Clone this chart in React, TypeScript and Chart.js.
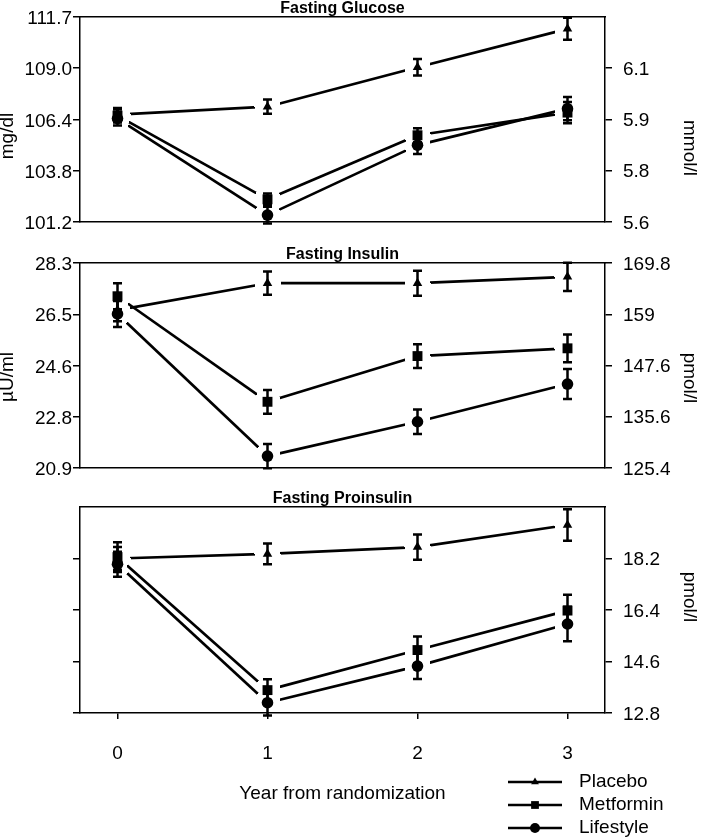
import React, { useEffect, useRef } from 'react';
import { Chart, registerables } from 'chart.js';
import { drawPoint } from 'chart.js/helpers';

Chart.register(...registerables);

const FONT = 'Liberation Sans, Arial, sans-serif';

const years = [0, 1, 2, 3];
const yearLabels = ['0', '1', '2', '3'];
const seriesNames = ['Placebo', 'Metformin', 'Lifestyle'];
const seriesMarkers = ['triangle', 'rect', 'circle'];
const markerRadius = [5.5, 7, 5.8];
const xTitle = 'Year from randomization';

// Fasting glucose (mg/dl)
const glucosePlacebo = [106.65, 107.05, 109.05, 111.0];
const glucoseMetformin = [106.6, 102.35, 105.6, 106.75];
const glucoseLifestyle = [106.45, 101.55, 105.1, 106.95];
const glucosePlaceboErr = [0.33, 0.36, 0.42, 0.56];
const glucoseMetforminErr = [0.35, 0.3, 0.36, 0.54];
const glucoseLifestyleErr = [0.35, 0.43, 0.45, 0.59];
const glucoseTicks = [101.2, 103.8, 106.4, 109.0, 111.6];
const glucoseLeftLabels = ['101.2', '103.8', '106.4', '109.0', '111.7'];
const glucoseRightTicks = [101.2, 103.8, 106.4, 109.0];
const glucoseRightLabels = ['5.6', '5.8', '5.9', '6.1'];

// Fasting insulin (µU/ml)
const insulinPlacebo = [26.6, 27.57, 27.57, 27.8];
const insulinMetformin = [27.1, 23.29, 24.94, 25.22];
const insulinLifestyle = [26.46, 21.33, 22.57, 23.93];
const insulinPlaceboErr = [0.4, 0.42, 0.45, 0.51];
const insulinMetforminErr = [0.47, 0.43, 0.43, 0.5];
const insulinLifestyleErr = [0.47, 0.44, 0.44, 0.54];
const insulinTicks = [20.9, 22.75, 24.6, 26.45, 28.3];
const insulinLeftLabels = ['20.9', '22.8', '24.6', '26.5', '28.3'];
const insulinRightLabels = ['125.4', '135.6', '147.6', '159', '169.8'];

// Fasting proinsulin (pmol/l)
const proinsulinPlacebo = [18.2, 18.36, 18.6, 19.37];
const proinsulinMetformin = [18.25, 13.6, 15.0, 16.38];
const proinsulinLifestyle = [18.0, 13.16, 14.44, 15.91];
const proinsulinPlaceboErr = [0.4, 0.36, 0.44, 0.55];
const proinsulinMetforminErr = [0.52, 0.38, 0.47, 0.55];
const proinsulinLifestyleErr = [0.44, 0.45, 0.45, 0.6];
const proinsulinTicks = [12.8, 14.6, 16.4, 18.2];
const proinsulinLeftLabels = ['', '', '', ''];
const proinsulinRightLabels = ['12.8', '14.6', '16.4', '18.2'];

const GAP = 13;
const CLEAR = 'rgba(0,0,0,0)';

// line segments fade out near each marker, leaving a small gap like the original
function gappedSegmentColor(sc: any) {
  const a = sc.p0;
  const b = sc.p1;
  const len = Math.hypot(b.x - a.x, b.y - a.y);
  if (!len || !isFinite(len)) return '#000';
  const g = Math.min(GAP / len, 0.45);
  const grad = sc.chart.ctx.createLinearGradient(a.x, a.y, b.x, b.y);
  grad.addColorStop(0, CLEAR);
  grad.addColorStop(g, CLEAR);
  grad.addColorStop(g, '#000');
  grad.addColorStop(1 - g, '#000');
  grad.addColorStop(1 - g, CLEAR);
  grad.addColorStop(1, CLEAR);
  return grad;
}

const errorBarPlugin = {
  id: 'errorBars',
  afterDatasetsDraw(chart: any) {
    const ctx = chart.ctx;
    const ys = chart.scales.y;
    ctx.save();
    ctx.strokeStyle = '#000';
    ctx.lineWidth = 2.5;
    chart.data.datasets.forEach((ds: any, i: number) => {
      const meta = chart.getDatasetMeta(i);
      meta.data.forEach((p: any, j: number) => {
        const v = ds.data[j].y;
        const e = ds.errors[j];
        const t = ys.getPixelForValue(v + e);
        const b = ys.getPixelForValue(v - e);
        ctx.beginPath();
        ctx.moveTo(p.x, t);
        ctx.lineTo(p.x, b);
        ctx.moveTo(p.x - 4.5, t);
        ctx.lineTo(p.x + 4.5, t);
        ctx.moveTo(p.x - 4.5, b);
        ctx.lineTo(p.x + 4.5, b);
        ctx.stroke();
      });
    });
    ctx.restore();
  },
};

const sideTitlePlugin = {
  id: 'sideTitles',
  afterDraw(chart: any, _args: any, opts: any) {
    const ctx = chart.ctx;
    (opts.items || []).forEach((it: any) => {
      ctx.save();
      ctx.translate(it.x, it.y);
      ctx.rotate(it.rot);
      ctx.font = `19px ${FONT}`;
      ctx.fillStyle = '#000';
      ctx.textAlign = 'center';
      ctx.textBaseline = 'middle';
      ctx.fillText(it.text, 0, 0);
      ctx.restore();
    });
  },
};

const legendPlugin = {
  id: 'seriesLegend',
  afterDraw(chart: any, _args: any, opts: any) {
    if (!opts.show) return;
    const ctx = chart.ctx;
    const legendRadius = [4.5, 5.5, 5];
    ctx.save();
    chart.data.datasets.forEach((ds: any, i: number) => {
      const y = opts.y0 + i * opts.dy;
      ctx.strokeStyle = '#000';
      ctx.lineWidth = 2.7;
      ctx.beginPath();
      ctx.moveTo(opts.x0, y);
      ctx.lineTo(opts.x1, y);
      ctx.stroke();
      ctx.fillStyle = '#000';
      drawPoint(ctx, { pointStyle: ds.pointStyle, radius: legendRadius[i], rotation: 0, borderWidth: 0 } as any, (opts.x0 + opts.x1) / 2, y);
      ctx.font = `19px ${FONT}`;
      ctx.textAlign = 'left';
      ctx.textBaseline = 'middle';
      ctx.fillText(ds.label, opts.tx, y);
    });
    ctx.restore();
  },
};

type PanelCfg = {
  title: string;
  means: number[][];
  errs: number[][];
  min: number;
  max: number;
  leftTicks: number[];
  leftLabels: string[];
  rightTicks: number[];
  rightLabels: string[];
  sideTitles: any[];
  showX: boolean;
  bottomPad: number;
};

function buildConfig(c: PanelCfg): any {
  const tickFont = { family: FONT, size: 19 };
  const axisLine = { display: true, color: '#000', width: 1.5 };
  return {
    type: 'line',
    data: {
      datasets: seriesNames.map((name, i) => ({
        label: name,
        data: years.map((x, j) => ({ x, y: c.means[i][j] })),
        errors: c.errs[i],
        borderColor: '#000',
        backgroundColor: '#000',
        borderWidth: 2.7,
        segment: { borderColor: gappedSegmentColor },
        pointStyle: seriesMarkers[i],
        pointRadius: markerRadius[i],
        pointBorderWidth: 0,
        pointBackgroundColor: '#000',
        tension: 0,
        clip: false,
      })),
    },
    options: {
      responsive: false,
      maintainAspectRatio: false,
      animation: false,
      events: [],
      layout: { padding: { top: 0, left: 0, right: 0, bottom: c.bottomPad } },
      plugins: {
        legend: { display: false },
        tooltip: { enabled: false },
        title: {
          display: true,
          text: c.title,
          fullSize: false,
          padding: 0,
          color: '#000',
          font: { family: FONT, size: 16, weight: 'bold', lineHeight: 17 / 16 },
        },
        sideTitles: { items: c.sideTitles },
        seriesLegend: { show: c.showX, x0: 508, x1: 562, tx: 579, y0: 292, dy: 23 },
      },
      scales: {
        x: {
          type: 'linear',
          position: 'bottom',
          min: -0.25,
          max: 3.25,
          afterBuildTicks: (ax: any) => {
            ax.ticks = years.map((v) => ({ value: v }));
          },
          afterFit: (s: any) => {
            if (c.showX) s.height = 92.4;
          },
          ticks: {
            display: c.showX,
            callback: (_v: any, i: number) => yearLabels[i],
            padding: 23.6,
            font: tickFont,
            color: '#000',
            autoSkip: false,
            maxRotation: 0,
          },
          grid: { display: c.showX, drawOnChartArea: false, drawTicks: c.showX, tickLength: 6, color: '#000', lineWidth: 1.5 },
          border: axisLine,
          title: c.showX
            ? { display: true, text: xTitle, color: '#000', padding: { top: 0, bottom: 0 }, font: { family: FONT, size: 19, lineHeight: 1.2 } }
            : { display: false },
        },
        xTop: {
          type: 'linear',
          position: 'top',
          ticks: { display: false },
          grid: { display: false, drawTicks: false },
          border: axisLine,
        },
        y: {
          type: 'linear',
          position: 'left',
          min: c.min,
          max: c.max,
          afterBuildTicks: (ax: any) => {
            ax.ticks = c.leftTicks.map((v) => ({ value: v }));
          },
          afterFit: (s: any) => {
            s.width = 80;
            s.paddingTop = 0;
            s.paddingBottom = 0;
          },
          ticks: {
            callback: (_v: any, i: number) => c.leftLabels[i],
            padding: 1,
            labelOffset: 2,
            font: tickFont,
            color: '#000',
            autoSkip: false,
          },
          grid: { drawOnChartArea: false, tickLength: 7, color: '#000', lineWidth: 1.5 },
          border: axisLine,
        },
        yR: {
          type: 'linear',
          position: 'right',
          min: c.min,
          max: c.max,
          afterBuildTicks: (ax: any) => {
            ax.ticks = c.rightTicks.map((v) => ({ value: v }));
          },
          afterFit: (s: any) => {
            s.width = 96;
            s.paddingTop = 0;
            s.paddingBottom = 0;
          },
          ticks: {
            callback: (_v: any, i: number) => c.rightLabels[i],
            padding: 11,
            labelOffset: 1.5,
            font: tickFont,
            color: '#000',
            autoSkip: false,
          },
          grid: { drawOnChartArea: false, tickLength: 7, color: '#000', lineWidth: 1.5 },
          border: axisLine,
        },
      },
    },
    plugins: [errorBarPlugin, sideTitlePlugin, legendPlugin],
  };
}

const panels: { cfg: PanelCfg; top: number; height: number }[] = [
  {
    top: 0,
    height: 240,
    cfg: {
      title: 'Fasting Glucose',
      means: [glucosePlacebo, glucoseMetformin, glucoseLifestyle],
      errs: [glucosePlaceboErr, glucoseMetforminErr, glucoseLifestyleErr],
      min: 101.2,
      max: 111.6,
      leftTicks: glucoseTicks,
      leftLabels: glucoseLeftLabels,
      rightTicks: glucoseRightTicks,
      rightLabels: glucoseRightLabels,
      sideTitles: [
        { text: 'mg/dl', x: 8, y: 136, rot: -Math.PI / 2 },
        { text: 'mmol/l', x: 689, y: 148, rot: Math.PI / 2 },
      ],
      showX: false,
      bottomPad: 18,
    },
  },
  {
    top: 246,
    height: 240,
    cfg: {
      title: 'Fasting Insulin',
      means: [insulinPlacebo, insulinMetformin, insulinLifestyle],
      errs: [insulinPlaceboErr, insulinMetforminErr, insulinLifestyleErr],
      min: 20.9,
      max: 28.3,
      leftTicks: insulinTicks,
      leftLabels: insulinLeftLabels,
      rightTicks: insulinTicks,
      rightLabels: insulinRightLabels,
      sideTitles: [
        { text: 'µU/ml', x: 8, y: 131, rot: -Math.PI / 2 },
        { text: 'pmol/l', x: 689, y: 132, rot: Math.PI / 2 },
      ],
      showX: false,
      bottomPad: 18,
    },
  },
  {
    top: 490,
    height: 350,
    cfg: {
      title: 'Fasting Proinsulin',
      means: [proinsulinPlacebo, proinsulinMetformin, proinsulinLifestyle],
      errs: [proinsulinPlaceboErr, proinsulinMetforminErr, proinsulinLifestyleErr],
      min: 12.8,
      max: 20.0,
      leftTicks: proinsulinTicks,
      leftLabels: proinsulinLeftLabels,
      rightTicks: proinsulinTicks,
      rightLabels: proinsulinRightLabels,
      sideTitles: [{ text: 'pmol/l', x: 689, y: 107, rot: Math.PI / 2 }],
      showX: true,
      bottomPad: 34.6,
    },
  },
];

function Panel({ cfg, top, height }: { cfg: PanelCfg; top: number; height: number }) {
  const ref = useRef<HTMLCanvasElement>(null);
  useEffect(() => {
    const chart = new Chart(ref.current as HTMLCanvasElement, buildConfig(cfg));
    return () => chart.destroy();
  }, []);
  return (
    <canvas
      ref={ref}
      width={701}
      height={height}
      style={{ position: 'absolute', left: 0, top, width: 701, height, display: 'block' }}
    />
  );
}

export default function App() {
  return (
    <div style={{ position: 'absolute', left: 0, top: 0, width: 701, height: 840, background: '#fff' }}>
      {panels.map((p, i) => (
        <Panel key={i} cfg={p.cfg} top={p.top} height={p.height} />
      ))}
    </div>
  );
}
